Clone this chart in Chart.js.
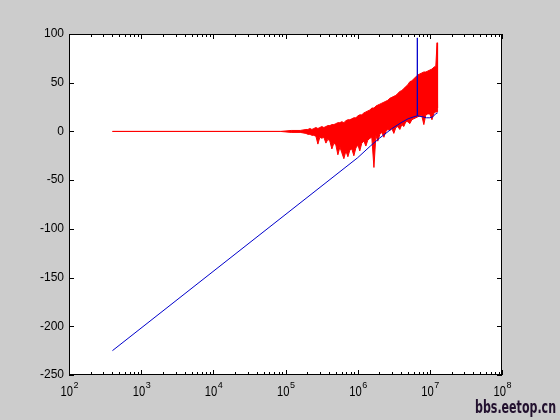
<!DOCTYPE html>
<html>
<head>
<meta charset="utf-8">
<script src="https://cdn.jsdelivr.net/npm/chart.js@4.4.1/dist/chart.umd.min.js"></script>
<style>
  html, body { margin: 0; padding: 0; background: #cccccc; }
  canvas { display: block; }
</style>
</head>
<body>
<canvas id="responseChart" width="560" height="420"></canvas>
<script>
// axis ticks
var xTickExponents = [2, 3, 4, 5, 6, 7, 8];
var xMinorSteps = [2, 3, 4, 5, 6, 7, 8, 9];
var yTickValues = [-250, -200, -150, -100, -50, 0, 50, 100];

// blue trace (Hz / dB)
var blueFreq = [400, 1e6, 1.5e6, 2e6, 3e6, 4e6, 5e6, 6e6, 6.68e6, 6.7e6, 6.72e6, 8e6, 9e6, 1e7, 1.1e7, 1.2e7, 1.28e7];
var blueLevel = [-225, -27, -15, -7, 3, 9, 13, 15, 16, 96, 16, 15, 14, 14, 15, 18, 19];

// red trace, drawn as the band between its upper and lower envelope
var redFreq = [400, 8.5e4, 1.2e5, 1.6e5,
    1.92e5, 2.04e5, 2.18e5, 2.32e5, 2.47e5, 2.64e5, 2.81e5, 2.99e5, 3.19e5, 3.40e5,
    3.63e5, 3.87e5, 4.12e5, 4.39e5, 4.68e5, 4.99e5, 5.32e5, 5.67e5, 6.04e5, 6.44e5,
    6.87e5, 7.32e5, 7.80e5, 8.31e5, 8.86e5, 9.44e5, 1.01e6, 1.07e6, 1.14e6, 1.22e6,
    1.30e6, 1.38e6, 1.48e6, 1.57e6, 1.68e6, 1.79e6, 1.90e6, 2.03e6, 2.16e6, 2.31e6,
    2.46e6, 2.62e6, 2.79e6, 2.98e6, 3.17e6, 3.38e6, 3.60e6, 3.84e6, 4.09e6, 4.36e6,
    4.65e6, 4.96e6, 5.28e6, 5.63e6, 6.00e6, 6.40e6, 6.82e6, 7.27e6, 7.74e6, 8.26e6,
    8.80e6, 9.38e6, 1.00e7, 1.07e7, 1.14e7, 1.21e7,
    1.26e7, 1.28e7];
var redUpper = [0, 0, 1, 1,
    2, 2, 3, 2, 3, 4, 3, 4, 5, 4,
    5, 6, 6, 7, 7, 8, 9, 9, 10, 9,
    11, 12, 12, 13, 14, 14, 16, 17, 17, 19,
    20, 21, 22, 24, 24, 26, 27, 28, 29, 30,
    31, 32, 34, 35, 36, 37, 39, 41, 42, 44,
    46, 48, 51, 52, 54, 56, 58, 59, 60, 61,
    61, 62, 63, 64, 66, 67,
    91, 24];
var redLower = [0, 0, -1, -1,
    -2, -3, -3, -4, -4, -5, -13, -6, -7, -6,
    -12, -8, -10, -18, -12, -14, -24, -16, -22, -28,
    -20, -26, -19, -18, -25, -17, -14, -20, -12, -10,
    -15, -9, -7, -6, -37, -4, -10, -3, -1, -6,
    0, 2, 1, 3, -2, 4, 5, 2, 7, 5,
    10, 10, 8, 12, 13, 14, 15, 16, 16, 7,
    17, 18, 18, 12, 19, 20,
    20, 24];

var watermark = 'bbs.eetop.cn';

function toPoints(xs, ys) {
    return xs.map(function (x, i) { return { x: x, y: ys[i] }; });
}

// matlab style box, inward ticks, 10^n labels
var matlabAxesPlugin = {
    id: 'matlabAxes',
    beforeDraw: function (chart) {
        var ctx = chart.ctx, a = chart.chartArea;
        ctx.save();
        ctx.fillStyle = '#cccccc';
        ctx.fillRect(0, 0, chart.width, chart.height);
        ctx.fillStyle = '#ffffff';
        ctx.fillRect(a.left, a.top, a.right - a.left, a.bottom - a.top);
        ctx.restore();
    },
    afterDraw: function (chart) {
        var ctx = chart.ctx, a = chart.chartArea;
        var xs = chart.scales.x, ys = chart.scales.y;
        ctx.save();
        ctx.strokeStyle = '#000000';
        ctx.lineWidth = 1;
        ctx.strokeRect(a.left + 0.5, a.top + 0.5, a.right - a.left - 1, a.bottom - a.top - 1);

        ctx.beginPath();
        function xTick(v, len) {
            var px = Math.round(xs.getPixelForValue(v)) + 0.5;
            ctx.moveTo(px, a.bottom); ctx.lineTo(px, a.bottom - len);
            ctx.moveTo(px, a.top); ctx.lineTo(px, a.top + len);
        }
        xTickExponents.forEach(function (e, i) {
            xTick(Math.pow(10, e), 5);
            if (i < xTickExponents.length - 1) {
                xMinorSteps.forEach(function (m) { xTick(m * Math.pow(10, e), 3); });
            }
        });
        yTickValues.forEach(function (v) {
            var py = Math.round(ys.getPixelForValue(v)) + 0.5;
            ctx.moveTo(a.left, py); ctx.lineTo(a.left + 5, py);
            ctx.moveTo(a.right, py); ctx.lineTo(a.right - 5, py);
        });
        ctx.stroke();

        ctx.fillStyle = '#000000';
        ctx.textBaseline = 'alphabetic';
        xTickExponents.forEach(function (e) {
            var px = xs.getPixelForValue(Math.pow(10, e));
            ctx.save();
            ctx.translate(px - 8.5, 396);
            ctx.scale(0.8, 1);
            ctx.font = '14px "Liberation Sans", Arial, sans-serif';
            ctx.fillText('10', 0, 0);
            ctx.restore();
            ctx.font = '9px "Liberation Sans", Arial, sans-serif';
            ctx.fillText(String(e), px + 4.5, 387.5);
        });

        // site stamp in the lower right corner
        ctx.font = 'bold 17px "DejaVu Sans", sans-serif';
        var w = ctx.measureText(watermark).width;
        ctx.translate(475, 413);
        ctx.scale(81 / w, 1);
        ctx.fillStyle = '#22102e';
        ctx.fillText(watermark, 0, 0);
        ctx.restore();
    }
};

function ResponseChartController() {
    var self = this;

    self.init = function () {
        self.loadResponseChart();
    };

    self.loadResponseChart = function () {
        var ctx = document.getElementById('responseChart').getContext('2d');
        self.chart = new Chart(ctx, {
            type: 'line',
            data: {
                datasets: [
                    {
                        label: 'blue',
                        data: toPoints(blueFreq, blueLevel),
                        borderColor: '#0000cc',
                        borderWidth: 1,
                        pointRadius: 0,
                        fill: false
                    },
                    {
                        label: 'red upper',
                        data: toPoints(redFreq, redUpper),
                        borderColor: '#ff0000',
                        backgroundColor: '#ff0000',
                        borderWidth: 1,
                        pointRadius: 0,
                        fill: '+1'
                    },
                    {
                        label: 'red lower',
                        data: toPoints(redFreq, redLower),
                        borderColor: '#ff0000',
                        borderWidth: 1,
                        pointRadius: 0,
                        fill: false
                    }
                ]
            },
            options: {
                responsive: false,
                animation: false,
                layout: { padding: { top: 34, right: 58, left: 0, bottom: 0 } },
                scales: {
                    x: {
                        type: 'logarithmic',
                        min: 100,
                        max: 1e8,
                        ticks: { display: false },
                        grid: { display: false, drawTicks: false },
                        border: { display: false },
                        afterFit: function (s) { s.height = 45; }
                    },
                    y: {
                        type: 'linear',
                        min: -250,
                        max: 100,
                        afterBuildTicks: function (s) {
                            s.ticks = yTickValues.map(function (v) { return { value: v }; });
                        },
                        ticks: {
                            color: '#000000',
                            padding: 5,
                            font: { family: '"Liberation Sans", Arial, sans-serif', size: 12 }
                        },
                        grid: { display: false, drawTicks: false },
                        border: { display: false },
                        afterFit: function (s) { s.width = 69; }
                    }
                },
                plugins: {
                    legend: { display: false },
                    tooltip: { enabled: false }
                }
            },
            plugins: [matlabAxesPlugin]
        });
    };
}

new ResponseChartController().init();
</script>
</body>
</html>
